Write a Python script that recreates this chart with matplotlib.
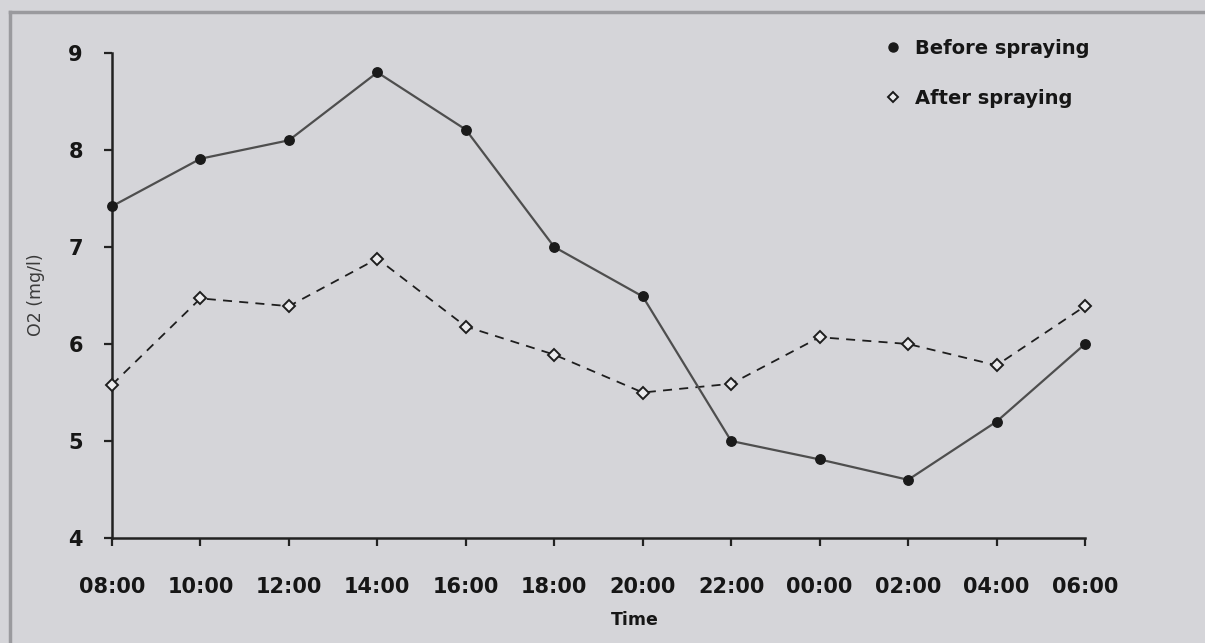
import matplotlib.pyplot as plt
from matplotlib.lines import Line2D

# Oxygen readings over 24 h, before and after spraying
times = ['08:00', '10:00', '12:00', '14:00', '16:00', '18:00',
         '20:00', '22:00', '00:00', '02:00', '04:00', '06:00']
before = [7.42, 7.91, 8.1, 8.8, 8.21, 7.0, 6.49, 5.0, 4.81, 4.6, 5.2, 6.0]
after = [5.58, 6.47, 6.39, 6.88, 6.18, 5.89, 5.5, 5.59, 6.07, 6.0, 5.78, 6.39]
y_ticks = [4, 5, 6, 7, 8, 9]

bg = '#d5d5d9'
fig = plt.figure(figsize=(12.05, 6.43), dpi=100)
fig.set_facecolor(bg)
ax = fig.add_axes([112 / 1205, 1 - 538 / 643, (1085 - 112) / 1205, (538 - 53) / 643])
ax.set_facecolor(bg)

x = list(range(len(times)))
ax.plot(x, after, color='#1e1e1e', lw=1.3, linestyle=(0, (5, 4)),
        marker='D', ms=6, mfc='#ececee', mec='#1e1e1e', mew=1.4,
        clip_on=False, zorder=3)
ax.plot(x, before, color='#4e4e4e', lw=1.6, marker='o', ms=6.8,
        mfc='#1a1a1a', mec='#1a1a1a', clip_on=False, zorder=4)

ax.set_xlim(0, len(times) - 1)
ax.set_ylim(4, 9)
ax.set_xticks(x)
ax.set_xticklabels(times)
ax.set_yticks(y_ticks)

for s in ['top', 'right']:
    ax.spines[s].set_visible(False)
for s in ['left', 'bottom']:
    ax.spines[s].set_color('#222222')
    ax.spines[s].set_linewidth(1.8)

ax.tick_params(axis='x', direction='out', length=6, width=1.6, color='#222222',
               pad=22, labelsize=15, labelcolor='#161616')
ax.tick_params(axis='y', direction='out', length=6, width=1.6, color='#222222',
               pad=15, labelsize=15, labelcolor='#161616')
for lab in ax.get_xticklabels() + ax.get_yticklabels():
    lab.set_fontweight('bold')

fig.text(36 / 1205, 1 - 295 / 643, 'O2 (mg/l)', rotation=90, ha='center', va='center',
         fontsize=12.5, color='#3a3a3a')
fig.text(635 / 1205, 1 - 620 / 643, 'Time', ha='center', va='center',
         fontsize=12.5, fontweight='bold', color='#161616')

handles = [
    Line2D([], [], linestyle='none', marker='o', ms=6.5, mfc='#1a1a1a', mec='#1a1a1a'),
    Line2D([], [], linestyle='none', marker='D', ms=5, mfc='#ececee', mec='#1a1a1a', mew=1.4),
]
leg = fig.legend(handles, ['Before spraying', 'After spraying'], loc='upper left',
                 bbox_to_anchor=(874 / 1205, 1 - 29 / 643), frameon=False,
                 prop={'weight': 'bold', 'size': 14}, labelspacing=1.6,
                 handlelength=1.0, handletextpad=0.6, borderpad=0)
for t in leg.get_texts():
    t.set_color('#161616')

# scanned page frame lines
fig.add_artist(Line2D([10 / 1205, 10 / 1205], [0, 1 - 12 / 643], transform=fig.transFigure,
                      color='#9a9a9e', lw=2.5))
fig.add_artist(Line2D([10 / 1205, 1], [1 - 12 / 643, 1 - 12 / 643], transform=fig.transFigure,
                      color='#9a9a9e', lw=2.5))

fig.savefig('out.png', dpi=100, facecolor=bg)
